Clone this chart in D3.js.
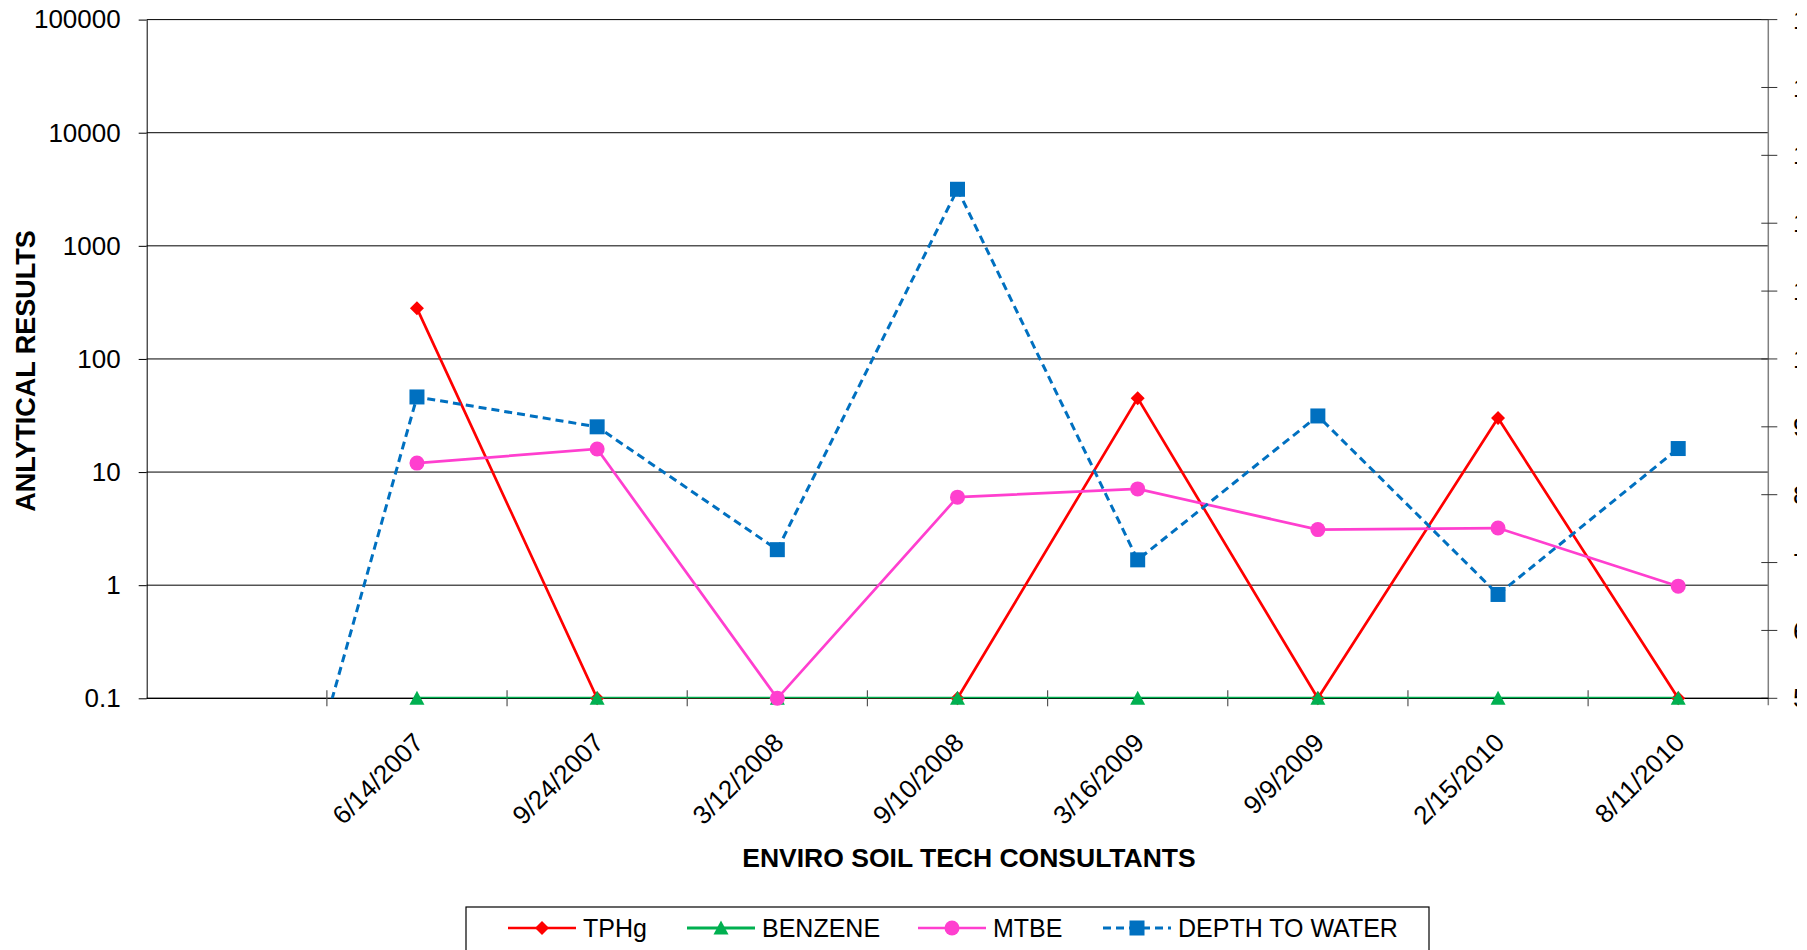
<!DOCTYPE html>
<html>
<head>
<meta charset="utf-8">
<script src="https://cdnjs.cloudflare.com/ajax/libs/d3/7.8.5/d3.min.js"></script>
<style>
  html, body { margin: 0; padding: 0; background: #fff; overflow: hidden; }
  svg text { font-family: "Liberation Sans", Arial, sans-serif; fill: #000; }
</style>
</head>
<body>
<div id="chart"></div>
<script>
// sampling dates (first slot is the empty category Excel left in the sheet)
var categories = ["", "6/14/2007", "9/24/2007", "3/12/2008", "9/10/2008", "3/16/2009", "9/9/2009", "2/15/2010", "8/11/2010"];

// analytical results (left, log axis) - ND plotted at 0.1
var tphg    = [null, 280, 0.1, 0.1, 0.1, 45, 0.1, 30, 0.1];
var benzene = [null, 0.1, 0.1, 0.1, 0.1, 0.1, 0.1, 0.1, 0.1];
var mtbe    = [null, 12, 16, 0.1, 6, 7.1, 3.1, 3.2, 0.98];

// depth to water (right, linear axis)
var depth   = [0, 9.44, 9.0, 7.19, 12.5, 7.04, 9.16, 6.53, 8.68];

var leftTicks  = [0.1, 1, 10, 100, 1000, 10000, 100000];
var rightTicks = [5, 6, 7, 8, 9, 10, 11, 12, 13, 14, 15];

var W = 1807, H = 950;
var pLeft = 146.7, pRight = 1768.3, pTop = 19.6, pBottom = 698.3;

var svg = d3.select("#chart").append("svg").attr("width", W).attr("height", H)

var x = d3.scaleBand().domain(categories).range([pLeft, pRight])
var bw = x.bandwidth()
var cx = function(i) { return x(categories[i]) + bw / 2 }
var yL = d3.scaleLog().domain([0.1, 100000]).range([pBottom, pTop])
var yR = d3.scaleLinear().domain([5, 15]).range([pBottom, pTop])

svg.append("clipPath").attr("id", "plot-clip").append("rect")
  .attr("x", pLeft).attr("y", pTop).attr("width", pRight - pLeft).attr("height", pBottom - pTop)
svg.append("clipPath").attr("id", "page-clip").append("rect")
  .attr("x", 0).attr("y", 0).attr("width", 1797).attr("height", H)

// gridlines
svg.append("g").selectAll("line").data(leftTicks).enter().append("line")
  .attr("x1", pLeft).attr("x2", pRight)
  .attr("y1", function(d) { return yL(d) }).attr("y2", function(d) { return yL(d) })
  .attr("stroke", "#000").attr("stroke-width", 1)

// left axis
var axL = svg.append("g").attr("transform", "translate(" + pLeft + ",0)")
  .call(d3.axisLeft(yL).tickValues(leftTicks).tickFormat(function(d) { return d }).tickSize(8).tickSizeOuter(0).tickPadding(18))
axL.select(".domain").attr("stroke", "#000")
axL.selectAll(".tick line").attr("stroke", "#000")
axL.selectAll("text").style("font-size", "26px").attr("font-family", null).attr("fill", null)

// right axis (labels run off the page edge)
var axR = svg.append("g").attr("transform", "translate(" + pRight + ",0)")
axR.append("line").attr("x1", 0).attr("x2", 0).attr("y1", pTop).attr("y2", pBottom + 7)
  .attr("stroke", "#808080").attr("stroke-width", 1.5)
axR.selectAll("line.t").data(rightTicks).enter().append("line").attr("class", "t")
  .attr("x1", -7).attr("x2", 9)
  .attr("y1", function(d) { return yR(d) }).attr("y2", function(d) { return yR(d) })
  .attr("stroke", "#333").attr("stroke-width", 1)
svg.append("g").attr("clip-path", "url(#page-clip)")
  .selectAll("text").data(rightTicks).enter().append("text")
  .attr("x", 1793).attr("y", function(d) { return yR(d) }).attr("dy", "0.35em")
  .style("font-size", "26px").text(function(d) { return d })

// x axis line + category boundary ticks
svg.append("line").attr("x1", pLeft).attr("x2", pRight).attr("y1", pBottom).attr("y2", pBottom)
  .attr("stroke", "#000").attr("stroke-width", 1.2)
svg.append("g").selectAll("line").data(categories.slice(1)).enter().append("line")
  .attr("x1", function(d) { return x(d) }).attr("x2", function(d) { return x(d) })
  .attr("y1", pBottom - 8).attr("y2", pBottom + 8)
  .attr("stroke", "#555").attr("stroke-width", 1.2)
svg.append("g").selectAll("text").data(categories.slice(1)).enter().append("text")
  .attr("transform", function(d) { return "translate(" + (x(d) + bw / 2 + 8) + "," + (pBottom + 46) + ") rotate(-45)" })
  .attr("text-anchor", "end").style("font-size", "26px").text(function(d) { return d })

// titles
svg.append("text").attr("x", 969).attr("y", 867).attr("text-anchor", "middle")
  .style("font-size", "26.5px").style("font-weight", "bold").text("ENVIRO SOIL TECH CONSULTANTS")
svg.append("text").attr("transform", "translate(35,371) rotate(-90)").attr("text-anchor", "middle")
  .style("font-size", "27px").style("font-weight", "bold").text("ANLYTICAL RESULTS")

// marker shapes
function marker(sel, kind, color) {
  if (kind == "diamond") sel.append("path").attr("d", "M0,-7L7,0L0,7L-7,0Z").attr("fill", color)
  if (kind == "triangle") sel.append("path").attr("d", "M0,-7.5L7.5,6.5L-7.5,6.5Z").attr("fill", color)
  if (kind == "circle") sel.append("circle").attr("r", 7.5).attr("fill", color)
  if (kind == "square") sel.append("rect").attr("x", -7.5).attr("y", -7.5).attr("width", 15).attr("height", 15).attr("fill", color)
}

var series = [
  {name: "TPHg", values: tphg, color: "#ff0000", kind: "diamond", y: yL, width: 2.7, dash: null},
  {name: "BENZENE", values: benzene, color: "#00b050", kind: "triangle", y: yL, width: 3, dash: null},
  {name: "MTBE", values: mtbe, color: "#ff3fcf", kind: "circle", y: yL, width: 2.7, dash: null},
  {name: "DEPTH TO WATER", values: depth, color: "#0070c0", kind: "square", y: yR, width: 3, dash: "8,5"}
]

series.forEach(function(s) {
  var pts = s.values.map(function(v, i) { return {i: i, v: v} }).filter(function(p) { return p.v != null })
  var line = d3.line().x(function(p) { return cx(p.i) }).y(function(p) { return s.y(p.v) })
  svg.append("path").datum(pts).attr("d", line).attr("clip-path", "url(#plot-clip)")
    .attr("fill", "none").attr("stroke", s.color).attr("stroke-width", s.width)
    .attr("stroke-dasharray", s.dash)
  var dom = s.y.domain()
  pts.filter(function(p) { return p.v >= dom[0] && p.v <= dom[1] }).forEach(function(p) {
    marker(svg.append("g").attr("transform", "translate(" + cx(p.i) + "," + s.y(p.v) + ")"), s.kind, s.color)
  })
})

// legend
var lg = svg.append("g")
lg.append("rect").attr("x", 466).attr("y", 907).attr("width", 963).attr("height", 70)
  .attr("fill", "#fff").attr("stroke", "#000").attr("stroke-width", 1.2)
var legendX = [508, 687, 918, 1103]
series.forEach(function(s, k) {
  var g = lg.append("g").attr("transform", "translate(" + legendX[k] + ",928)")
  g.append("line").attr("x1", 0).attr("x2", 68).attr("stroke", s.color).attr("stroke-width", s.width)
    .attr("stroke-dasharray", s.dash)
  marker(g.append("g").attr("transform", "translate(34,0)"), s.kind, s.color)
  g.append("text").attr("x", 75).attr("dy", "0.35em").style("font-size", "25px").text(s.name)
})
</script>
</body>
</html>
